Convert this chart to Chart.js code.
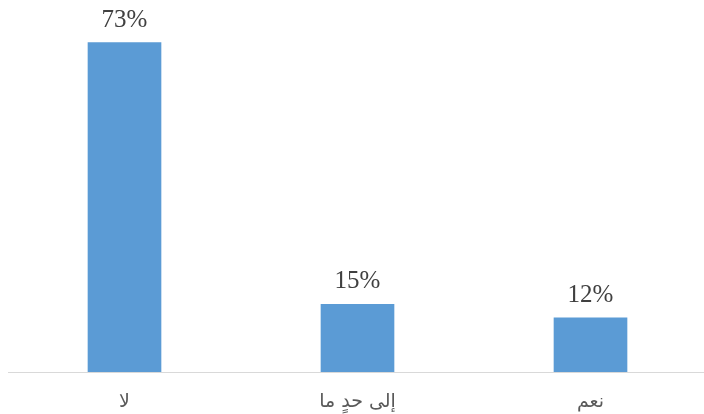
<!DOCTYPE html>
<html><head><meta charset="utf-8">
<script src="https://cdn.jsdelivr.net/npm/chart.js@4/dist/chart.umd.min.js"></script>
<style>html,body{margin:0;padding:0;background:#fff;overflow:hidden;width:704px;height:414px}#w{width:707px;height:414px}</style>
</head><body><div id="w"><canvas id="c"></canvas></div>
<script>
const categories = ["لا", "إلى حدٍ ما", "نعم"];
const values = [73, 15, 12];
const valueLabels = ["73%", "15%", "12%"];

const labelPlugin = {
  id: 'vlabels',
  afterDatasetsDraw(chart) {
    const ctx = chart.ctx;
    const meta = chart.getDatasetMeta(0);
    ctx.save();
    ctx.font = '25px "Liberation Serif"';
    ctx.fillStyle = '#404040';
    ctx.textAlign = 'center';
    ctx.textBaseline = 'alphabetic';
    meta.data.forEach((bar, i) => {
      ctx.fillText(valueLabels[i], bar.x, bar.y - 16);
    });
    ctx.restore();
  }
};

new Chart(document.getElementById('c'), {
  type: 'bar',
  data: { labels: categories, datasets: [{ data: values, backgroundColor: '#5b9bd5', borderWidth: 0, barThickness: 73 }] },
  options: {
    responsive: true, maintainAspectRatio: false, animation: false,
    layout: { padding: { left: 8, right: 0, top: 11, bottom: 0 } },
    plugins: { legend: { display: false }, tooltip: { enabled: false } },
    scales: {
      x: {
        grid: { display: false, drawTicks: false },
        border: { display: true, color: '#d9d9d9', width: 1 },
        ticks: { color: '#595959', font: { family: '"DejaVu Sans"', size: 19 }, padding: 19 },
        afterFit(s) { s.height = 42; }
      },
      y: {
        display: false, min: 0, max: 80,
        afterFit(s) { s.width = 0; }
      }
    }
  },
  plugins: [labelPlugin]
});
</script></body></html>
